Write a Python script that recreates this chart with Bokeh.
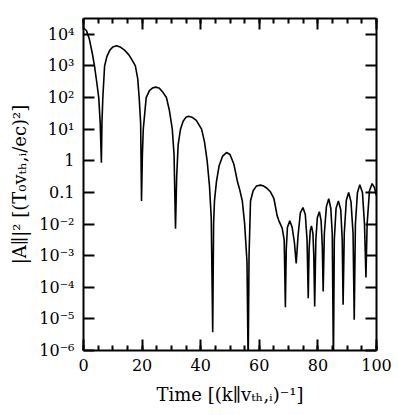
from bokeh.plotting import figure
from bokeh.models import FixedTicker, LinearAxis, LogAxis, CustomJSTickFormatter, Range1d, Title
from bokeh.embed import file_html
from bokeh.resources import INLINE

# Time in units of (k_par v_th,i)^-1
time = [0, 1, 2, 3, 3.75, 4.5, 5.2, 5.7, 6.1,
        6.3, 6.6, 7.2, 8, 9, 10, 11.3, 12.5, 14, 15.5, 16.8, 17.7, 18.5, 19.0, 19.5, 19.8,
        20.1, 20.4, 21, 21.4, 22.5, 23.5, 24.6, 25.8, 27, 28.3, 29.3, 30.3, 30.9, 31.4,
        31.8, 32.3, 33.1, 34, 35, 35.8, 37, 38.5, 40.3, 41.3, 42.2, 43, 43.6, 44.1,
        44.4, 44.7, 45.4, 46.3, 47.5, 48.8, 50, 51.3, 52.5, 53.4, 54.2, 55, 55.8, 56.2,
        56.5, 57.0, 57.9, 59, 60.4, 61.5, 62.5, 63.8, 65, 66.1, 66.7, 67.8, 68.5, 68.9,
        69.2, 69.6, 70.4, 71.2, 72, 72.6,
        73.2, 74, 74.9, 75.7, 76.3, 76.7,
        77.0, 77.4, 77.8, 78.3, 78.6, 78.9,
        79.3, 79.8, 80.5, 81.1, 81.5, 81.8,
        82.2, 82.9, 83.7, 84.4, 84.9, 85.3,
        85.6, 86.2, 87.0, 87.8, 88.3, 88.6,
        89.0, 89.7, 90.5, 91.3, 92.0, 92.4,
        92.8, 93.5, 94.3, 95.2, 95.9, 96.4,
        96.8, 97.6, 98.5, 99.3, 100]

# log10 of |A_par|^2 at those times
log10_A2 = [4.2, 4.12, 3.85, 3.4, 3.0, 2.5, 2.0, 1.2, -0.06,
            1.2, 2.0, 3.0, 3.3, 3.5, 3.6, 3.64, 3.6, 3.5, 3.35, 3.15, 3.0, 2.6, 2.0, 1.2, -1.27,
            0.2, 1.0, 1.6, 2.0, 2.22, 2.3, 2.33, 2.3, 2.18, 2.0, 1.6, 1.0, 0.2, -2.15,
            -0.5, 0.5, 1.0, 1.25, 1.38, 1.41, 1.38, 1.28, 1.0, 0.6, 0.0, -0.8, -1.8, -5.42,
            -2.0, -1.27, -0.64, -0.15, 0.15, 0.26, 0.2, -0.1, -0.64, -0.95, -1.27, -2.0, -3.2, -6.5,
            -3.0, -1.27, -0.95, -0.8, -0.77, -0.8, -0.86, -0.98, -1.2, -1.74, -1.9, -2.13, -2.5, -4.63,
            -2.8, -2.1, -1.9, -2.1, -2.6, -3.25,
            -2.4, -1.65, -1.48, -1.7, -2.5, -4.35,
            -2.8, -2.2, -2.06, -2.3, -3.0, -4.61,
            -2.5, -1.8, -1.61, -1.9, -2.7, -4.13,
            -2.3, -1.45, -1.2, -1.5, -2.3, -6.5,
            -2.5, -1.5, -1.27, -1.55, -2.5, -4.55,
            -2.3, -1.25, -1.0, -1.3, -2.3, -5.03,
            -2.0, -1.0, -0.76, -1.0, -2.0, -3.69,
            -2.0, -0.95, -0.72, -0.85, -1.11]

A2 = [10 ** v for v in log10_A2]

x_ticks = [0, 20, 40, 60, 80, 100]
x_minor = [0, 5, 10, 15, 20, 25, 30, 35, 40, 45, 50, 55, 60, 65, 70, 75, 80, 85, 90, 95, 100]
y_ticks = [1e-6, 1e-5, 1e-4, 1e-3, 1e-2, 1e-1, 1, 10, 100, 1000, 1e4]
y_tick_labels = ["10⁻⁶", "10⁻⁵", "10⁻⁴", "10⁻³", "10⁻²", "0.1", "1", "10¹", "10²", "10³", "10⁴"]
x_title = "Time [(k∥vₜₕ,ᵢ)⁻¹]"
y_title = "|A∥|² [(T₀vₜₕ,ᵢ/ec)²]"

FONT = "DejaVu Serif"

p = figure(width=396, height=412, output_backend="svg", toolbar_location=None,
           y_axis_type="log", x_range=Range1d(0, 100), y_range=Range1d(1e-6, 10 ** 4.5),
           min_border_left=83, min_border_right=20, min_border_top=18, min_border_bottom=62)
p.grid.visible = False
p.outline_line_color = None
p.background_fill_color = "white"
p.border_fill_color = "white"

p.line(time, A2, line_color="black", line_width=1.6)

def style_x(ax, labels=True):
    ax.ticker = FixedTicker(ticks=x_ticks, minor_ticks=x_minor)
    ax.major_tick_in = 11
    ax.major_tick_out = 0
    ax.minor_tick_in = 5
    ax.minor_tick_out = 0
    ax.axis_line_width = 2
    ax.major_tick_line_width = 2
    ax.minor_tick_line_width = 2
    ax.major_label_text_font = FONT
    ax.major_label_text_font_size = "16px"
    ax.major_label_text_color = "black"
    ax.major_label_standoff = 8
    if not labels:
        ax.formatter = CustomJSTickFormatter(code="return ''")

def style_y(ax, labels=True):
    ax.ticker = FixedTicker(ticks=y_ticks, minor_ticks=[])
    ax.major_tick_in = 11
    ax.major_tick_out = 0
    ax.minor_tick_in = 0
    ax.minor_tick_out = 0
    ax.axis_line_width = 2
    ax.major_tick_line_width = 2
    ax.major_label_text_font = FONT
    ax.major_label_text_font_size = "16px"
    ax.major_label_text_color = "black"
    ax.major_label_standoff = 9
    if labels:
        ax.major_label_overrides = {t: s for t, s in zip(y_ticks, y_tick_labels)}
    else:
        ax.formatter = CustomJSTickFormatter(code="return ''")

style_x(p.xaxis[0])
style_y(p.yaxis[0])

top = LinearAxis()
style_x(top, labels=False)
p.add_layout(top, "above")
right = LogAxis()
style_y(right, labels=False)
p.add_layout(right, "right")

# axis titles as side titles so they can be shifted along the axis
p.add_layout(Title(text=x_title, text_font=FONT, text_font_size="18px", text_font_style="normal",
                   text_color="black", align="center", offset=18, standoff=16), "below")
p.add_layout(Title(text=y_title, text_font=FONT, text_font_size="18px", text_font_style="normal",
                   text_color="black", align="center", offset=76, standoff=13), "left")

open("out.html", "w").write(file_html(p, INLINE))
